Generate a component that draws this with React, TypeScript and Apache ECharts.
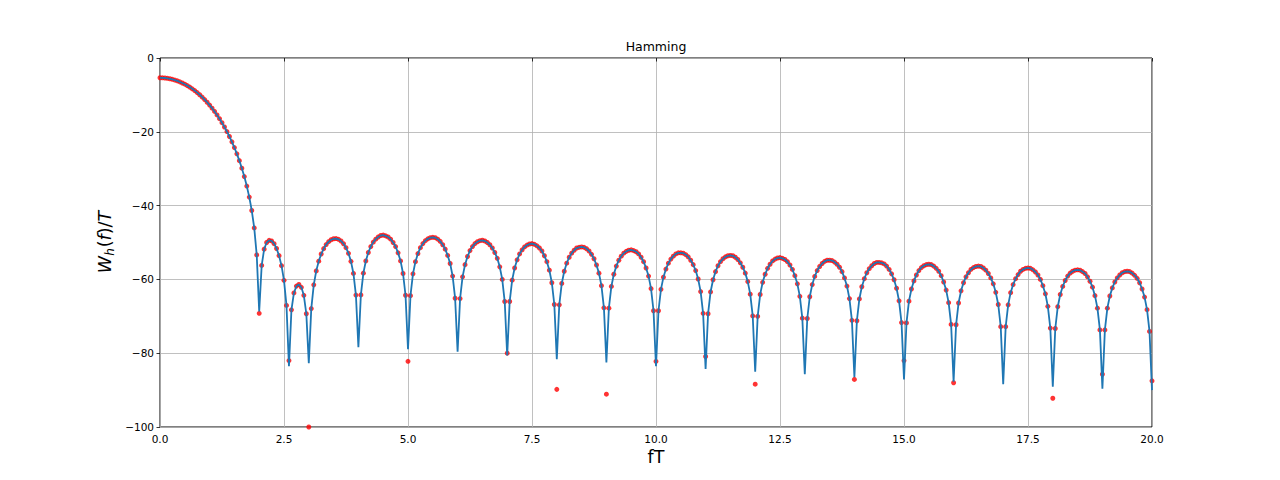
import React, { useEffect, useRef } from "react";
import * as echarts from "echarts";

const freqStep = 0.05;
const spectrumDb: number[] = [
  // 0.00 .. 1.00
  -5.35, -5.37, -5.42, -5.51, -5.63, -5.78, -5.98, -6.2, -6.47, -6.77, -7.1, -7.48, -7.89, -8.35, -8.84, -9.38, -9.96, -10.59, -11.26, -11.99, -12.77,
  // 1.05 .. 2.00
  -13.6, -14.48, -15.43, -16.45, -17.53, -18.69, -19.94, -21.28, -22.72, -24.28, -25.97, -27.82, -29.86, -32.13, -34.71, -37.7, -41.33, -46.05, -53.36, -68.7,
  // 2.05 .. 3.00
  -56.22, -51.8, -50.01, -49.41, -49.57, -50.32, -51.63, -53.56, -56.28, -60.26, -67.06, -83.5, -68.24, -63.67, -61.82, -61.39, -62.14, -64.32, -69.31, -82.7,
  // 3.05 .. 4.00
  -67.92, -61.48, -57.69, -55.06, -53.12, -51.66, -50.56, -49.78, -49.26, -48.98, -48.94, -49.14, -49.59, -50.33, -51.41, -52.94, -55.11, -58.39, -64.26, -78.4,
  // 4.05 .. 5.00
  -64.2, -58.3, -55.0, -52.7, -51.1, -49.9, -49.1, -48.5, -48.1, -48.0, -48.2, -48.5, -49.1, -50.0, -51.1, -52.8, -55.0, -58.4, -64.3, -78.9,
  // 5.05 .. 6.00
  -64.4, -58.5, -55.2, -53.0, -51.4, -50.3, -49.5, -49.0, -48.7, -48.6, -48.7, -49.1, -49.7, -50.6, -51.8, -53.5, -55.7, -59.1, -65.1, -79.6,
  // 6.05 .. 7.00
  -65.2, -59.3, -56.0, -53.8, -52.2, -51.1, -50.3, -49.8, -49.5, -49.4, -49.6, -50.0, -50.6, -51.5, -52.7, -54.3, -56.6, -60.0, -66.0, -80.6,
  // 7.05 .. 8.00
  -66.0, -60.2, -56.9, -54.7, -53.1, -52.0, -51.2, -50.7, -50.4, -50.3, -50.5, -50.9, -51.5, -52.3, -53.6, -55.2, -57.5, -60.9, -66.8, -81.6,
  // 8.05 .. 9.00
  -66.9, -61.1, -57.8, -55.6, -54.0, -52.9, -52.1, -51.5, -51.3, -51.2, -51.3, -51.7, -52.3, -53.2, -54.4, -56.1, -58.3, -61.7, -67.7, -82.5,
  // 9.05 .. 10.00
  -67.8, -61.9, -58.6, -56.4, -54.8, -53.7, -52.9, -52.4, -52.1, -52.0, -52.2, -52.5, -53.1, -54.0, -55.2, -56.9, -59.1, -62.5, -68.5, -83.5,
  // 10.05 .. 11.00
  -68.5, -62.7, -59.4, -57.2, -55.6, -54.5, -53.7, -53.1, -52.8, -52.8, -52.9, -53.3, -53.9, -54.8, -56.0, -57.6, -59.9, -63.3, -69.2, -84.3,
  // 11.05 .. 12.00
  -69.3, -63.4, -60.1, -57.9, -56.3, -55.2, -54.4, -53.9, -53.6, -53.5, -53.6, -54.0, -54.6, -55.5, -56.7, -58.3, -60.6, -64.0, -69.9, -85.0,
  // 12.05 .. 13.00
  -70.0, -64.1, -60.8, -58.6, -57.0, -55.9, -55.0, -54.5, -54.2, -54.1, -54.3, -54.6, -55.2, -56.1, -57.3, -59.0, -61.2, -64.6, -70.5, -85.7,
  // 13.05 .. 14.00
  -70.6, -64.7, -61.4, -59.2, -57.6, -56.5, -55.7, -55.1, -54.8, -54.8, -54.9, -55.3, -55.9, -56.7, -57.9, -59.6, -61.8, -65.2, -71.1, -86.5,
  // 14.05 .. 15.00
  -71.2, -65.3, -62.0, -59.8, -58.2, -57.1, -56.3, -55.7, -55.4, -55.4, -55.5, -55.8, -56.4, -57.3, -58.5, -60.1, -62.4, -65.8, -71.7, -87.1,
  // 15.05 .. 16.00
  -71.8, -65.9, -62.6, -60.4, -58.8, -57.6, -56.8, -56.3, -56.0, -55.9, -56.0, -56.4, -57.0, -57.8, -59.0, -60.7, -62.9, -66.3, -72.2, -87.7,
  // 16.05 .. 17.00
  -72.3, -66.4, -63.1, -60.9, -59.3, -58.2, -57.3, -56.8, -56.5, -56.4, -56.5, -56.9, -57.5, -58.4, -59.6, -61.2, -63.5, -66.8, -72.8, -88.4,
  // 17.05 .. 18.00
  -72.8, -66.9, -63.6, -61.4, -59.8, -58.7, -57.8, -57.3, -57.0, -56.9, -57.0, -57.4, -58.0, -58.8, -60.0, -61.7, -63.9, -67.3, -73.2, -89.1,
  // 18.05 .. 19.00
  -73.3, -67.4, -64.1, -61.9, -60.3, -59.1, -58.3, -57.8, -57.5, -57.4, -57.5, -57.9, -58.4, -59.3, -60.5, -62.1, -64.4, -67.8, -73.7, -89.6,
  // 19.05 .. 20.00
  -73.7, -67.8, -64.5, -62.3, -60.7, -59.6, -58.8, -58.2, -57.9, -57.8, -57.9, -58.3, -58.9, -59.7, -60.9, -62.6, -64.8, -68.2, -74.1, -90.0,
];

// sampled (red) values at the spectral nulls differ from the dense curve
const nullFreqs = [2, 2.6, 3, 4, 5, 6, 7, 8, 9, 10, 11, 12, 13, 14, 15, 16, 17, 18, 19, 20];
const redNullDb: (number | null)[] = [
  -69.2, -82.0, -100.0, null, -82.2, null, -80.0, -89.8, -91.1, -82.2,
  -80.9, -88.4, null, -87.1, -82.0, -88.0, null, -92.2, -85.7, -87.5,
];

const titleText = "Hamming";
const xLabelText = "fT";

const FONT = "DejaVu Sans";

export default function App() {
  const ref = useRef<HTMLDivElement>(null);

  useEffect(() => {
    if (!ref.current) return;
    const chart = echarts.init(ref.current, undefined, { renderer: "svg" });

    const lineData = spectrumDb.map((v, i) => [Number((i * freqStep).toFixed(2)), v]);
    const dotData: number[][] = [];
    lineData.forEach(([f, v]) => {
      const k = nullFreqs.findIndex((n) => Math.abs(n - f) < 1e-6);
      if (k >= 0) {
        const r = redNullDb[k];
        if (r !== null) dotData.push([f, r]);
      } else {
        dotData.push([f, v]);
      }
    });

    const minus = (v: number) => (v < 0 ? "\u2212" + Math.abs(v) : String(v));

    chart.setOption({
      animation: false,
      backgroundColor: "#ffffff",
      grid: {
        left: 160,
        right: 128,
        top: 58,
        bottom: 53,
        show: true,
        borderColor: "#000000",
        borderWidth: 1,
        backgroundColor: "transparent",
      },
      xAxis: {
        type: "value",
        min: 0,
        max: 20,
        interval: 2.5,
        axisLine: { show: false },
        axisTick: { show: true, inside: false, length: 3.5, lineStyle: { color: "#000", width: 0.8 } },
        axisLabel: {
          color: "#000",
          fontFamily: FONT,
          fontSize: 10.5,
          margin: 6,
          formatter: (v: number) => v.toFixed(1),
        },
        splitLine: { show: true, lineStyle: { color: "#b0b0b0", width: 0.8 } },
      },
      yAxis: {
        type: "value",
        min: -100,
        max: 0,
        interval: 20,
        axisLine: { show: false },
        axisTick: { show: true, inside: false, length: 3.5, lineStyle: { color: "#000", width: 0.8 } },
        axisLabel: {
          color: "#000",
          fontFamily: FONT,
          fontSize: 10.5,
          margin: 6,
          formatter: minus,
        },
        splitLine: { show: true, lineStyle: { color: "#b0b0b0", width: 0.8 } },
      },
      series: [
        {
          type: "scatter",
          data: dotData,
          symbol: "circle",
          symbolSize: 5,
          itemStyle: { color: "#ff0000" },
          clip: true,
          z: 2,
        },
        {
          type: "line",
          data: lineData,
          showSymbol: false,
          symbol: "none",
          lineStyle: { color: "#1f77b4", width: 1.8 },
          clip: true,
          z: 3,
        },
      ],
      graphic: [
        {
          type: "text",
          x: 656,
          y: 46,
          style: {
            text: titleText,
            fill: "#000",
            font: `12.5px "${FONT}"`,
            textAlign: "center",
            textVerticalAlign: "middle",
          },
        },
        {
          type: "text",
          x: 656,
          y: 457,
          style: {
            text: xLabelText,
            fill: "#000",
            font: `17.5px "${FONT}"`,
            textAlign: "center",
            textVerticalAlign: "middle",
          },
        },
        {
          type: "text",
          x: 105,
          y: 242,
          rotation: Math.PI / 2,
          style: {
            text: "{i|W}{s|h}{n|(}{i|f}{n|)/}{i|T}",
            fill: "#000",
            textAlign: "center",
            textVerticalAlign: "middle",
            rich: {
              i: { fontFamily: FONT, fontStyle: "italic", fontSize: 17.5, lineHeight: 22, verticalAlign: "middle" },
              n: { fontFamily: FONT, fontSize: 17.5, lineHeight: 22, verticalAlign: "middle" },
              s: { fontFamily: FONT, fontStyle: "italic", fontSize: 12, lineHeight: 12, verticalAlign: "bottom", padding: [0, 1, 0, 0] },
            },
          },
        },
      ],
    });

    return () => chart.dispose();
  }, []);

  return (
    <div
      ref={ref}
      style={{ position: "fixed", left: 0, top: 0, width: 1280, height: 480, background: "#fff" }}
    />
  );
}
